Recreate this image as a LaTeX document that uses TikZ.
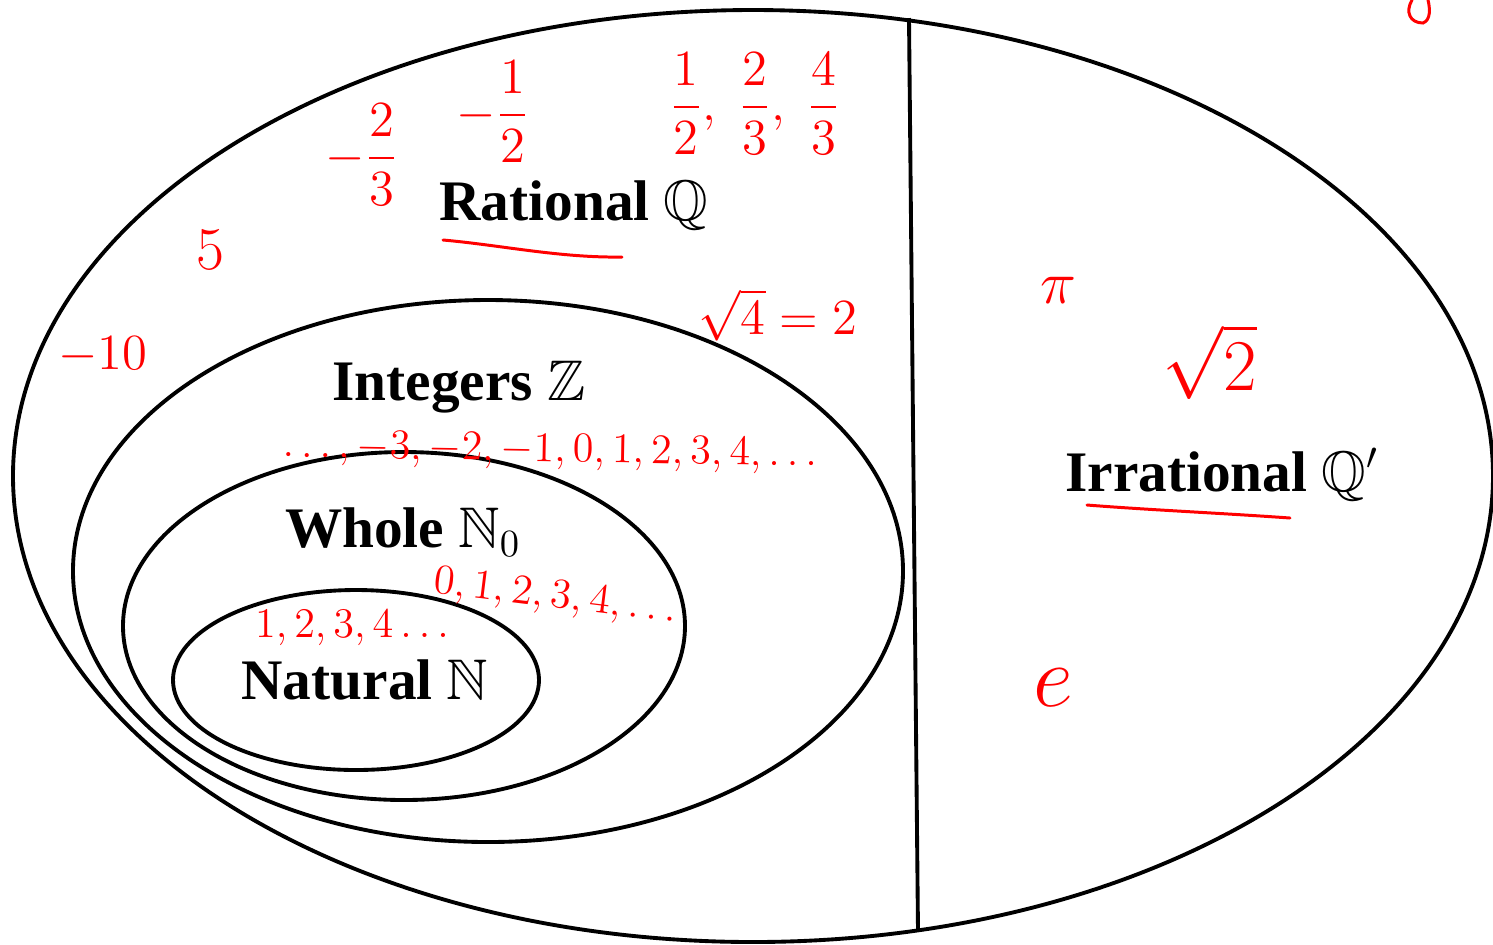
\documentclass[tikz,border=0pt]{standalone}
\usepackage{amsmath,amssymb}
\usepackage[no-math]{fontspec}
\setmainfont{Liberation Serif}
\begin{document}
\begin{tikzpicture}[x=0.01cm, y=-0.01cm,
  set/.style={line width=1.1pt},
  setname/.style={font=\fontsize{16.3}{19}\selectfont\bfseries, inner sep=0pt},
  pen/.style={text=red, inner sep=0pt},
  penline/.style={draw=red, line width=0.85pt, line cap=round}]
\useasboundingbox (0,0) rectangle (1493,944);
% the four nested sets and the split
\draw[set] (753,476) ellipse [x radius=740, y radius=466];
\draw[set] (488,571) ellipse [x radius=415, y radius=271];
\draw[set] (404,626) ellipse [x radius=281, y radius=174];
\draw[set] (356,680) ellipse [x radius=183, y radius=90];
\draw[set] (909,18) -- (918,931);
% names of the sets
\node[setname] (q) at (574,205) {Rational $\mathbb{Q}$};
\node[setname] (z) at (459,387) {Integers $\mathbb{Z}$};
\node[setname] (w) at (403,532) {Whole $\mathbb{N}_0$};
\node[setname] (n) at (365,680) {Natural $\mathbb{N}$};
\node[setname] (irr) at (1222,475) {Irrational $\mathbb{Q}'$};
% red notes
\node[pen, font=\fontsize{15}{18}\selectfont] (f1) at (362,155) {$-\dfrac{2}{3}$};
\node[pen, font=\fontsize{15}{18}\selectfont] (f2) at (493,112) {$-\dfrac{1}{2}$};
\node[pen, font=\fontsize{15}{18}\selectfont] (f3) at (755,104) {$\dfrac{1}{2},\ \dfrac{2}{3},\ \dfrac{4}{3}$};
\node[pen, font=\fontsize{17}{20}\selectfont] (five) at (210,250) {$5$};
\node[pen, font=\fontsize{15}{18}\selectfont] (ten) at (103,355) {$-10$};
\node[pen, font=\fontsize{15}{18}\selectfont] (r4) at (778,315) {$\sqrt{4}=2$};
\node[pen, font=\fontsize{12.5}{15}\selectfont, rotate=-1] (zs) at (550,452) {$\ldots,-3,-2,-1,0,1,2,3,4,\ldots$};
\node[pen, font=\fontsize{11.5}{14}\selectfont, rotate=-7] (ws) at (555,598) {$0,1,2,3,4,\ldots$};
\node[pen, font=\fontsize{12}{14}\selectfont] (ns) at (352,628) {$1,2,3,4\ldots$};
\node[pen, font=\fontsize{18}{21}\selectfont] (pi) at (1058,290) {$\pi$};
\node[pen, font=\fontsize{20}{24}\selectfont] (r2) at (1210,362) {$\sqrt{2}$};
\node[pen, font=\fontsize{24}{28}\selectfont] (e) at (1053,688) {$e$};
% underlines and stray mark
\draw[penline] (443,240) .. controls (500,245) and (560,258) .. (622,257);
\draw[penline] (1087,505) .. controls (1150,510) and (1220,513) .. (1290,518);
\draw[penline] (1412,0) .. controls (1405,12) and (1410,23) .. (1423,23) .. controls (1431,20) and (1430,8) .. (1428,0);
\end{tikzpicture}
\end{document}
